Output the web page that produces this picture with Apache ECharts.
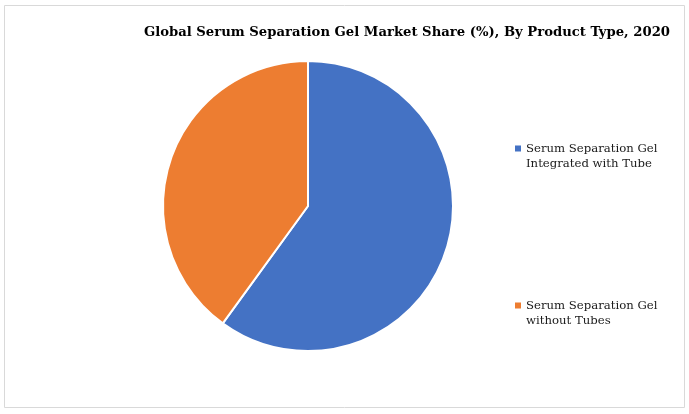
<!DOCTYPE html>
<html><head><meta charset="utf-8">
<script src="https://cdn.jsdelivr.net/npm/echarts@6/dist/echarts.min.js"></script>
<style>html,body{margin:0;padding:0;background:#fff}#c{width:689px;height:414px}</style>
</head><body><div id="c"></div>
<script>
const categories = ["Serum Separation Gel\nIntegrated with Tube", "Serum Separation Gel\nwithout Tubes"];
const shares = [60, 40];
const colors = ["#4472C4", "#ED7D31"];
const titleText = "Global Serum Separation Gel Market Share (%), By Product Type, 2020";

const chart = echarts.init(document.getElementById('c'));
const legendText = {fontFamily: 'DejaVu Serif', fontSize: 11.7, color: '#1a1a1a', lineHeight: 15};
const iconPath = 'path://M0,0L0.01,0M0,4.5L6,4.5L6,10.5L0,10.5ZM0,30L0.01,30';
const legendBase = {orient: 'vertical', selectedMode: false, itemWidth: 6, itemHeight: 30, itemGap: 0,
  icon: iconPath, itemStyle: {borderWidth: 0}, textStyle: legendText, padding: 0};
chart.setOption({
  animation: false,
  title: {text: titleText, right: 19, top: 26, padding: 0,
    textStyle: {fontFamily: 'DejaVu Serif', fontWeight: 'bold', fontSize: 13.2, color: '#000'}},
  graphic: [{type: 'rect', shape: {x: 4.5, y: 5.5, width: 680, height: 402}, style: {fill: 'none', stroke: '#d9d9d9', lineWidth: 1}}],
  legend: [
    Object.assign({data: [categories[0]], left: 515, top: 141}, legendBase),
    Object.assign({data: [categories[1]], left: 515, top: 298}, legendBase)
  ],
  series: [{
    type: 'pie', center: [308, 206], radius: 145, startAngle: 90, clockwise: true,
    label: {show: false}, labelLine: {show: false},
    itemStyle: {borderColor: '#fff', borderWidth: 2},
    data: categories.map((n, i) => ({name: n, value: shares[i], itemStyle: {color: colors[i]}}))
  }]
});
</script></body></html>
